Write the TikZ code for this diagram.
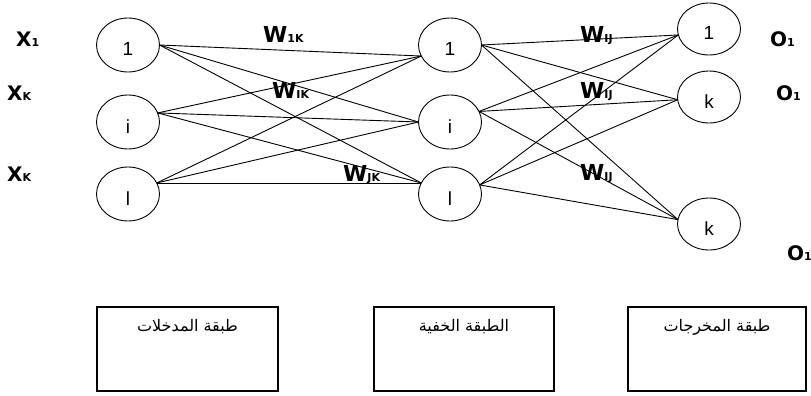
\documentclass[tikz,border=0pt]{standalone}
\usepackage{fontspec}
\setmainfont{Liberation Sans}
\newfontfamily\lblfont{DejaVu Sans}
\newfontfamily\arabicfont[Script=Arabic]{DejaVu Sans}
\TeXXeTstate=1
\usetikzlibrary{positioning,shapes.geometric}

\newcommand\sublbl[3]{{\lblfont\bfseries\fontsize{#1}{#1}\selectfont #2}{\lblfont\bfseries\fontsize{11}{11}\selectfont #3}}

\tikzset{
  unit/.style={ellipse,draw,line width=0.9pt,minimum width=63pt,minimum height=54pt,inner sep=0pt,outer sep=0pt,
    font=\fontsize{19}{19}\selectfont,text height=22pt,text depth=0pt},
  outunit/.style={unit,minimum height=52pt},
  link/.style={line width=0.9pt},
  tag/.style={anchor=base west,inner sep=0pt},
  layerbox/.style={rectangle,draw,line width=1.1pt,minimum height=84pt,inner sep=0pt,outer sep=0pt},
  layertext/.style={inner sep=0pt,font=\arabicfont\fontsize{16}{16}\selectfont}
}

\begin{document}
\begin{tikzpicture}[x=1pt,y=-1pt]
  \useasboundingbox (0,0) rectangle (811,396);
  % units
  \node(in1)[unit] at (128,45){1};
  \node(in2)[unit,below =23pt of in1]{i};
  \node(in3)[unit,below =18pt of in2]{l};
  \node(hd1)[unit,right =259pt of in1]{1};
  \node(hd2)[unit,below =23pt of hd1]{i};
  \node(hd3)[unit,below =18pt of hd2]{l};
  \node(out1)[outunit] at (709,29){1};
  \node(out2)[outunit,below =16pt of out1]{k};
  \node(out3)[outunit,below =75pt of out2]{k};
  % input -> hidden
\draw[link](in1.east)--(hd1.201);
\draw[link](in1.east)--(hd2.west);
\draw[link](in1.east)--(hd3.159);
\draw[link](in2.17)--(hd1.201);
\draw[link](in2.17)--(hd2.west);
\draw[link](in2.17)--(hd3.159);
\draw[link](in3.21)--(hd1.201);
\draw[link](in3.21)--(hd2.west);
\draw[link](in3.21)--(hd3.159);
  % hidden -> output
\draw[link](hd1.east)--(out1.191);
\draw[link](hd1.east)--(out2.185);
\draw[link](hd1.east)--(out3.172);
\draw[link](hd2.20)--(out1.191);
\draw[link](hd2.20)--(out2.185);
\draw[link](hd2.20)--(out3.172);
\draw[link](hd3.17)--(out1.191);
\draw[link](hd3.17)--(out2.185);
\draw[link](hd3.17)--(out3.172);
  % labels
  \node(x1)[tag] at (16,47){\sublbl{20}{X}{1}};
  \node(xk1)[tag] at (7,100){\sublbl{20}{X}{K}};
  \node(xk2)[tag] at (7,181){\sublbl{20}{X}{K}};
  \node(w1k)[tag] at (263,43){\sublbl{22}{W}{1K}};
  \node(wik)[tag] at (272,99){\sublbl{22}{W}{IK}};
  \node(wjk)[tag] at (343,181){\sublbl{22}{W}{JK}};
  \node(wij1)[tag] at (580,43){\sublbl{22}{W}{IJ}};
  \node(wij2)[tag] at (580,99){\sublbl{22}{W}{IJ}};
  \node(wij3)[tag] at (580,180){\sublbl{22}{W}{IJ}};
  \node(o1)[tag] at (770,47){\sublbl{20}{O}{1}};
  \node(o2)[tag] at (776,100){\sublbl{20}{O}{1}};
  \node(o3)[tag] at (787,260){\sublbl{20}{O}{1}};
  % layer boxes
  \node(inbox)[layerbox,minimum width=181pt] at (187.5,349){};
  \node(hdbox)[layerbox,minimum width=180pt] at (464,349){};
  \node(outbox)[layerbox,minimum width=178pt] at (717,349){};
  \node(intext)[layertext,below =12pt of inbox.north]{\beginR طبقة المدخلات\endR};
  \node(hdtext)[layertext,below =12pt of hdbox.north]{\beginR الطبقة الخفية\endR};
  \node(outtext)[layertext,below =12pt of outbox.north]{\beginR طبقة المخرجات\endR};
\end{tikzpicture}
\end{document}
